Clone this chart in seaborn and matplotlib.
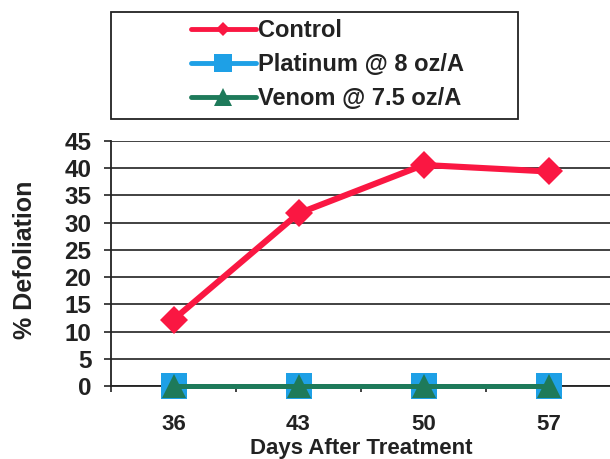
#!/usr/bin/env python3
# Defoliation vs. days after treatment - line chart rebuilt with seaborn

import matplotlib.pyplot as plt
import seaborn as sns
from matplotlib.lines import Line2D
from matplotlib.patches import Rectangle

# --- data -------------------------------------------------------------------
days = ["36", "43", "50", "57"]
control = [12.2, 31.7, 40.6, 39.4]
platinum = [0.0, 0.0, 0.0, 0.0]
venom = [0.0, 0.0, 0.0, 0.0]

series_names = ["Control", "Platinum @ 8 oz/A", "Venom @ 7.5 oz/A"]
y_ticks = [0, 5, 10, 15, 20, 25, 30, 35, 40, 45]

RED = "#FA1742"
BLUE = "#1EA0E6"
GREEN = "#1E7A5A"

sns.set_style("white")
plt.rcParams["font.family"] = ["Liberation Sans", "DejaVu Sans"]
plt.rcParams["font.weight"] = "bold"

fig = plt.figure(figsize=(6.1, 4.59), dpi=100)
ax = fig.add_axes([111 / 610, 73 / 459, 500 / 610, 245 / 459])

# blue squares first, green triangles sit on top of them
sns.lineplot(x=days, y=platinum, ax=ax, color=BLUE, marker="s", markersize=18.5,
             linewidth=3.5, markeredgewidth=0, sort=False, clip_on=False, zorder=3)
sns.lineplot(x=days, y=venom, ax=ax, color=GREEN, marker="^", markersize=17,
             linewidth=3.6, markeredgewidth=0, sort=False, clip_on=False, zorder=4)
sns.lineplot(x=days, y=control, ax=ax, color=RED, marker="D", markersize=14,
             linewidth=4.4, markeredgewidth=0, sort=False, clip_on=False, zorder=5)

# --- axes -------------------------------------------------------------------
ax.set_xlim(-0.5, 3.5)
ax.set_ylim(0, 45)
ax.set_yticks(y_ticks)
ax.set_xticks([-0.5, 0.5, 1.5, 2.5, 3.5], minor=True)

for side in ["top", "right"]:
    ax.spines[side].set_visible(False)
ax.spines["left"].set_color("#222222")
ax.spines["bottom"].set_color("#222222")
ax.spines["left"].set_linewidth(1.3)
ax.spines["bottom"].set_linewidth(1.3)

ax.yaxis.grid(True, color="#333333", linewidth=1.3)
ax.set_axisbelow(True)

ax.tick_params(axis="y", which="major", length=5, width=1.2, color="#222222",
               pad=9, labelsize=17.5, left=True)
ax.tick_params(axis="x", which="major", length=0, pad=20, labelsize=16)
ax.tick_params(axis="x", which="minor", length=4.5, width=1.2, color="#222222",
               bottom=True)
for lbl in ax.get_xticklabels() + ax.get_yticklabels():
    lbl.set_fontweight("bold")
    lbl.set_color("#222222")

ax.set_xlabel("Days After Treatment", fontsize=16, fontweight="bold",
              color="#222222", labelpad=2.5)
ax.set_ylabel("% Defoliation", fontsize=18, fontweight="bold", color="#222222")
ax.yaxis.set_label_coords(-0.148, 0.515)

# --- legend: boxed area above the plot --------------------------------------
fig.add_artist(Rectangle((111 / 610, 1 - 119 / 459), 407 / 610, 107 / 459,
                         transform=fig.transFigure, fill=False,
                         edgecolor="#222222", linewidth=1.3))
handles = [
    Line2D([], [], color=RED, marker="D", markersize=7.5, linewidth=3.5,
           markeredgewidth=0),
    Line2D([], [], color=BLUE, marker="s", markersize=13, linewidth=3.5,
           markeredgewidth=0),
    Line2D([], [], color=GREEN, marker="^", markersize=12.5, linewidth=3.5,
           markeredgewidth=0),
]
leg = ax.legend(handles, series_names, loc="upper left",
                bbox_to_anchor=(191 / 610, 1 - 19 / 459),
                bbox_transform=fig.transFigure, frameon=False,
                borderpad=0, borderaxespad=0, handlelength=2.75,
                handletextpad=0.08, labelspacing=0.47,
                prop={"size": 17, "weight": "bold"})
for t in leg.get_texts():
    t.set_color("#222222")

fig.savefig("out.png", dpi=100)
